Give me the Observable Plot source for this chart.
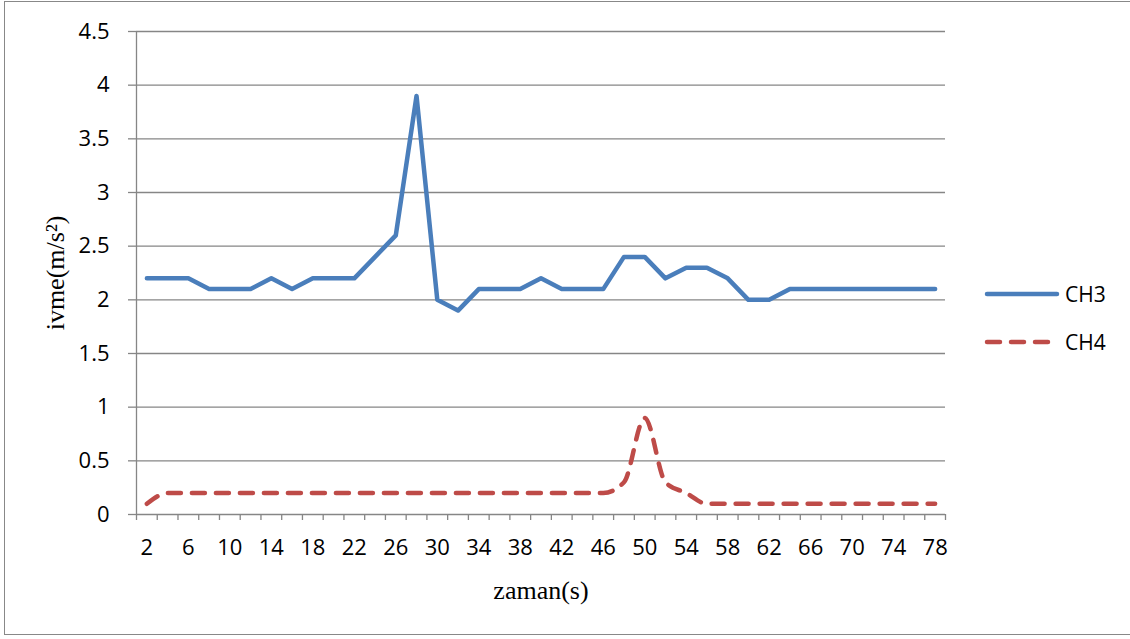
<!DOCTYPE html>
<html>
<head>
<meta charset="utf-8">
<script src="https://cdn.jsdelivr.net/npm/d3@7"></script>
<script src="https://cdn.jsdelivr.net/npm/@observablehq/plot@0.6"></script>
<style>
  html, body { margin: 0; padding: 0; background: #fff; }
  #wrap { position: relative; width: 1130px; height: 639px; overflow: hidden; }
  #border { position: absolute; left: 4px; top: 1px; width: 1140px; height: 634px; border: 1.3px solid #888; box-sizing: border-box; }
  #legend { position: absolute; left: 980px; top: 275px; }
  #chart { position: absolute; left: 0; top: 0; }
</style>
</head>
<body>
<div id="wrap">
  <div id="border"></div>
  <div id="chart"></div>
  <svg id="legend" width="140" height="90"></svg>
</div>
<script>
// x categories: time (s)
const times = [2,4,6,8,10,12,14,16,18,20,22,24,26,28,30,32,34,36,38,40,42,44,46,48,50,52,54,56,58,60,62,64,66,68,70,72,74,76,78];
// series values
const ch3 = [2.2,2.2,2.2,2.1,2.1,2.1,2.2,2.1,2.2,2.2,2.2,2.4,2.6,3.9,2.0,1.9,2.1,2.1,2.1,2.2,2.1,2.1,2.1,2.4,2.4,2.2,2.3,2.3,2.2,2.0,2.0,2.1,2.1,2.1,2.1,2.1,2.1,2.1,2.1];
const ch4 = [0.1,0.2,0.2,0.2,0.2,0.2,0.2,0.2,0.2,0.2,0.2,0.2,0.2,0.2,0.2,0.2,0.2,0.2,0.2,0.2,0.2,0.2,0.2,0.3,0.9,0.3,0.2,0.1,0.1,0.1,0.1,0.1,0.1,0.1,0.1,0.1,0.1,0.1,0.1];
// tick labels
const xTickLabels = [2,6,10,14,18,22,26,30,34,38,42,46,50,54,58,62,66,70,74,78];
const yTicks = [0,0.5,1,1.5,2,2.5,3,3.5,4,4.5];
const seriesNames = ["CH3", "CH4"];
const colors = ["#4a7ebb", "#be4b48"];
const yLabel = "ivme(m/s²)";
const xLabel = "zaman(s)";

const data3 = times.map((t, i) => ({t, v: ch3[i]}));
const data4 = times.map((t, i) => ({t, v: ch4[i]}));
const boundaries = times.map(t => t - 1).concat([times[times.length - 1] + 1]);

const grid = "#868686";
const plot = Plot.plot({
  width: 1130,
  height: 639,
  marginLeft: 136,
  marginRight: 185,
  marginTop: 31,
  marginBottom: 125,
  style: {fontFamily: "'Open Sans', sans-serif", fontSize: "22px", color: "#000", background: "transparent"},
  x: {domain: [boundaries[0], boundaries[boundaries.length - 1]]},
  y: {domain: [0, 4.5]},
  marks: [
    Plot.ruleY(yTicks.filter(d => d > 0), {stroke: grid, strokeWidth: 1.3}),
    Plot.ruleY([0], {stroke: grid, strokeWidth: 1.3}),
    Plot.ruleX([boundaries[0]], {stroke: grid, strokeWidth: 1.3}),
    Plot.axisY({ticks: yTicks, tickSize: 8, tickPadding: 19, tickFormat: d => String(d), stroke: grid, strokeWidth: 1.3, strokeOpacity: 1, label: null, fill: "#000", fontSize: 22}),
    Plot.axisX({ticks: boundaries, tickSize: 6, tickFormat: () => "", stroke: grid, strokeWidth: 1.3, strokeOpacity: 1, label: null}),
    Plot.axisX({ticks: xTickLabels, tickSize: 0, tickPadding: 25, tickFormat: d => String(d), label: null, fill: "#000", fontSize: 22}),
    Plot.line(data3, {x: "t", y: "v", stroke: colors[0], strokeWidth: 4.5, strokeLinejoin: "round", strokeLinecap: "round"}),
    Plot.line(data4, {x: "t", y: "v", stroke: colors[1], strokeWidth: 4.5, strokeDasharray: "13,11", strokeLinecap: "round", curve: "monotone-x"}),
    Plot.text([yLabel], {frameAnchor: "left", textAnchor: "middle", rotate: -90, dx: -81, fontFamily: "'Liberation Serif', serif", fontSize: 26, fill: "#000", lineAnchor: "middle"}),
    Plot.text([xLabel], {frameAnchor: "bottom", dy: 76, fontFamily: "'Liberation Serif', serif", fontSize: 26, fill: "#000", lineAnchor: "middle"})
  ]
});
document.getElementById("chart").appendChild(plot);

// legend
const lg = d3.select("#legend");
seriesNames.forEach((name, i) => {
  const y = 19 + i * 48;
  lg.append("line").attr("x1", 7).attr("x2", 77).attr("y1", y).attr("y2", y)
    .attr("stroke", colors[i]).attr("stroke-width", 4.5).attr("stroke-linecap", "round")
    .attr("stroke-dasharray", i === 1 ? "13,11" : null);
  lg.append("text").attr("x", 85).attr("y", y).attr("dy", "0.36em")
    .attr("font-family", "'Open Sans', sans-serif").attr("font-size", 21).attr("fill", "#000")
    .text(name);
});
</script>
</body>
</html>
